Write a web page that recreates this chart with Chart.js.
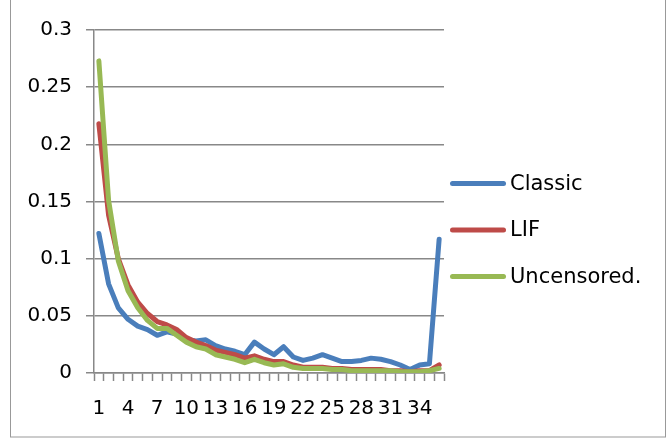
<!DOCTYPE html>
<html>
<head>
<meta charset="utf-8">
<script src="https://cdn.jsdelivr.net/npm/chart.js@4/dist/chart.umd.min.js"></script>
<style>
  html, body { margin: 0; padding: 0; background: #fff; }
  #wrap { width: 668px; height: 439px; position: relative; }
</style>
</head>
<body>
<div id="wrap"><canvas id="chart"></canvas></div>
<script>
// categories 1..36
const categories = ['1','2','3','4','5','6','7','8','9','10','11','12','13','14','15','16','17','18',
  '19','20','21','22','23','24','25','26','27','28','29','30','31','32','33','34','35','36'];

const classic = [0.122, 0.078, 0.057, 0.047, 0.041, 0.038, 0.033, 0.036, 0.034, 0.029, 0.028, 0.029,
  0.024, 0.021, 0.019, 0.016, 0.027, 0.021, 0.016, 0.023, 0.014, 0.011, 0.013, 0.016,
  0.013, 0.010, 0.010, 0.011, 0.013, 0.012, 0.010, 0.007, 0.003, 0.007, 0.008, 0.117];

const lif = [0.218, 0.138, 0.100, 0.077, 0.062, 0.052, 0.045, 0.042, 0.038, 0.031, 0.027, 0.024,
  0.020, 0.018, 0.016, 0.013, 0.015, 0.012, 0.010, 0.010, 0.007, 0.005, 0.005, 0.005,
  0.004, 0.004, 0.003, 0.003, 0.003, 0.003, 0.002, 0.002, 0.001, 0.002, 0.002, 0.007];

const uncensored = [0.273, 0.151, 0.098, 0.072, 0.057, 0.046, 0.039, 0.039, 0.033, 0.027, 0.023, 0.021,
  0.016, 0.014, 0.012, 0.009, 0.012, 0.009, 0.007, 0.008, 0.005, 0.004, 0.004, 0.004,
  0.003, 0.003, 0.002, 0.002, 0.002, 0.002, 0.002, 0.001, 0.001, 0.001, 0.002, 0.004];

const yTicks = [0, 0.05, 0.1, 0.15, 0.2, 0.25, 0.3];

const gridGray = '#888888';
const axisFont = { family: '"DejaVu Sans", sans-serif', size: 20 };
const legendFont = '21px "DejaVu Sans", sans-serif';

// white background + outer frame of the chart box
const framePlugin = {
  id: 'frame',
  beforeDraw(chart) {
    const c = chart.ctx;
    c.save();
    c.fillStyle = '#fff';
    c.fillRect(0, 0, chart.width, chart.height);
    c.strokeStyle = '#999';
    c.lineWidth = 1;
    c.strokeRect(10.5, -2, 655, 439);
    c.restore();
  }
};

// legend on the right: short line + series name, one row per dataset
const sideLegend = {
  id: 'sideLegend',
  afterDraw(chart) {
    const c = chart.ctx;
    const area = chart.chartArea;
    const x0 = area.right + 6;
    const rowGap = 46.5;
    const yMid = 230;
    const sets = chart.data.datasets;
    c.save();
    c.font = legendFont;
    c.textBaseline = 'middle';
    c.fillStyle = '#000';
    sets.forEach((ds, i) => {
      const y = yMid + (i - (sets.length - 1) / 2) * rowGap;
      c.beginPath();
      c.strokeStyle = ds.borderColor;
      c.lineWidth = ds.borderWidth;
      c.lineCap = 'round';
      c.moveTo(x0 + 2.5, y);
      c.lineTo(x0 + 53.5, y);
      c.stroke();
      c.fillText(ds.label, x0 + 60, y + 1);
    });
    c.restore();
  }
};

function makeSeries(label, data, color, order) {
  return {
    label: label,
    data: data,
    borderColor: color,
    backgroundColor: color,
    borderWidth: 5,
    borderCapStyle: 'round',
    borderJoinStyle: 'round',
    pointRadius: 0,
    tension: 0,
    order: order
  };
}

new Chart(document.getElementById('chart'), {
  type: 'line',
  data: {
    labels: categories,
    datasets: [
      makeSeries('Classic', classic, '#4A7EBB', 3),
      makeSeries('LIF', lif, '#BE4B48', 2),
      makeSeries('Uncensored.', uncensored, '#98B954', 1)
    ]
  },
  options: {
    responsive: true,
    maintainAspectRatio: false,
    animation: false,
    layout: { padding: { left: 0, top: 30, right: 224, bottom: 0 } },
    plugins: {
      tooltip: { enabled: false },
      legend: { display: false }
    },
    scales: {
      x: {
        offset: true,
        afterFit(scale) { scale.height = 66; },
        grid: {
          offset: true,
          drawOnChartArea: false,
          drawTicks: true,
          tickLength: 8,
          tickColor: gridGray,
          tickWidth: 1.5
        },
        border: { color: gridGray, width: 1.5 },
        ticks: {
          autoSkip: false,
          maxRotation: 0,
          padding: 16,
          color: '#000',
          font: axisFont,
          callback(value, index) { return index % 3 === 0 ? categories[index] : ''; }
        }
      },
      y: {
        min: 0,
        max: 0.3,
        afterFit(scale) { scale.width = 94; },
        afterBuildTicks(scale) { scale.ticks = yTicks.map(v => ({ value: v })); },
        grid: {
          color: gridGray,
          lineWidth: 1.5,
          tickLength: 8
        },
        border: { color: gridGray, width: 1.5 },
        ticks: {
          padding: 14,
          color: '#000',
          font: axisFont,
          callback(value) { return String(Number(value.toFixed(2))); }
        }
      }
    }
  },
  plugins: [framePlugin, sideLegend]
});
</script>
</body>
</html>
